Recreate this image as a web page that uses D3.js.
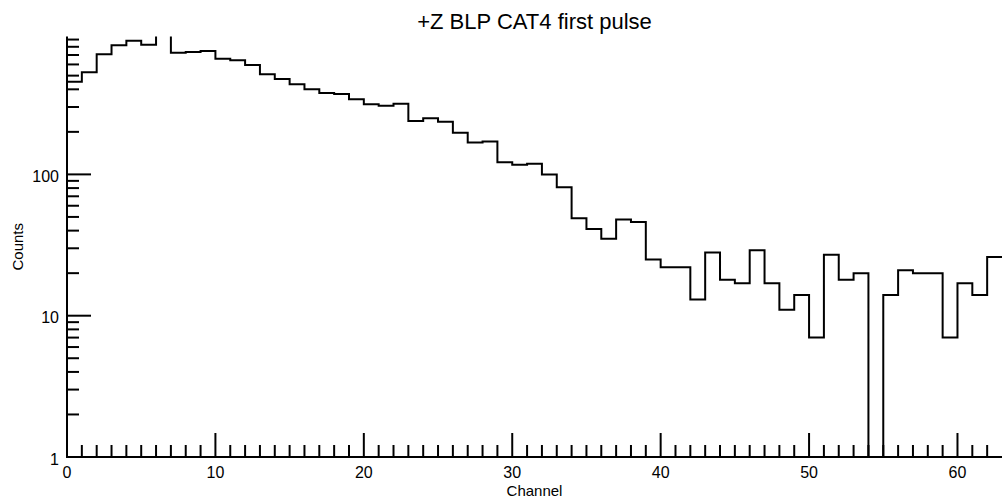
<!DOCTYPE html>
<html>
<head>
<meta charset="utf-8">
<script src="https://cdn.jsdelivr.net/npm/d3@7"></script>
<style>
  html, body { margin: 0; padding: 0; background: #fff; }
  svg { display: block; }
  text { font-family: "Liberation Sans", Arial, Helvetica, sans-serif; fill: #000; }
</style>
</head>
<body>
<svg id="chart" width="1006" height="502"></svg>
<script>
// ---- data ----
const title = "+Z BLP CAT4 first pulse";
const xTitle = "Channel";
const yTitle = "Counts";
// counts per channel (channel index = array index, 0..62)
const counts = [
  453, 528, 708, 820, 884, 828, 1020, 727, 735, 747,
  659, 642, 595, 511, 473, 434, 400, 377, 371, 340,
  313, 306, 316, 239, 250, 236, 197, 168, 171, 122,
  117, 119, 100, 81, 49, 41, 35, 48, 46, 25,
  22, 22, 13, 28, 18, 17, 29, 17, 11, 14,
  7, 27, 18, 20, 0, 14, 21, 20, 20, 7,
  17, 14, 26
];
const xDomain = [0, 63];
const yDomain = [1, 946];
const xMajorTicks = [0, 10, 20, 30, 40, 50, 60];
const yMajorTicks = [1, 10, 100];
const yMinorMultipliers = [2, 3, 4, 5, 6, 7, 8, 9];

(function () {
  // ---- layout ----
  const svg = d3.select("#chart");
  const mLeft = 67, mRight = 1002, mTop = 36.5, mBottom = 457;

  const x = d3.scaleLinear().domain(xDomain).range([mLeft, mRight]);
  const y = d3.scaleLog().domain(yDomain).range([mBottom, mTop]);

  // clip
  svg.append("defs").append("clipPath").attr("id", "plotclip")
    .append("rect").attr("x", mLeft - 2).attr("y", mTop)
    .attr("width", mRight - mLeft + 4).attr("height", mBottom - mTop + 2);

  // histogram
  const pts = counts.map((v, i) => [i, v]);
  pts.push([counts.length, counts[counts.length - 1]]);
  const line = d3.line()
    .x(d => x(d[0]))
    .y(d => y(Math.max(d[1], yDomain[0])))
    .curve(d3.curveStepAfter);

  svg.append("path")
    .attr("d", line(pts))
    .attr("fill", "none")
    .attr("stroke", "#000")
    .attr("stroke-width", 2)
    .attr("clip-path", "url(#plotclip)");

  // x axis
  const xMinor = d3.range(xDomain[0], xDomain[1]).filter(v => xMajorTicks.indexOf(v) < 0);
  const gx = svg.append("g").attr("stroke", "#000").attr("stroke-width", 2);
  gx.append("line").attr("x1", mLeft).attr("x2", mRight).attr("y1", mBottom).attr("y2", mBottom);
  gx.selectAll("line.minor").data(xMinor).join("line").attr("class", "minor")
    .attr("x1", d => x(d)).attr("x2", d => x(d))
    .attr("y1", mBottom).attr("y2", mBottom - 12);
  gx.selectAll("line.major").data(xMajorTicks).join("line").attr("class", "major")
    .attr("x1", d => x(d)).attr("x2", d => x(d))
    .attr("y1", mBottom).attr("y2", mBottom - 24);
  svg.selectAll("text.xlab").data(xMajorTicks).join("text").attr("class", "xlab")
    .attr("x", d => x(d)).attr("y", mBottom + 21)
    .attr("text-anchor", "middle").style("font-size", "16px")
    .text(d => d);

  // y axis
  const yMinor = [];
  yMajorTicks.forEach(m => yMinorMultipliers.forEach(k => {
    const v = m * k;
    if (v <= yDomain[1]) yMinor.push(v);
  }));
  const gy = svg.append("g").attr("stroke", "#000").attr("stroke-width", 2);
  gy.append("line").attr("x1", mLeft).attr("x2", mLeft).attr("y1", mTop).attr("y2", mBottom + 1);
  gy.selectAll("line.minor").data(yMinor).join("line").attr("class", "minor")
    .attr("x1", mLeft).attr("x2", mLeft + 12)
    .attr("y1", d => y(d)).attr("y2", d => y(d));
  gy.selectAll("line.major").data(yMajorTicks).join("line").attr("class", "major")
    .attr("x1", mLeft).attr("x2", mLeft + 24)
    .attr("y1", d => y(d)).attr("y2", d => y(d));
  svg.selectAll("text.ylab").data(yMajorTicks).join("text").attr("class", "ylab")
    .attr("x", mLeft - 8).attr("y", d => y(d) + 7.5)
    .attr("text-anchor", "end").style("font-size", "16px")
    .text(d => d);

  // titles
  svg.append("text").attr("x", (mLeft + mRight) / 2).attr("y", 29)
    .attr("text-anchor", "middle").style("font-size", "22px").text(title);
  svg.append("text").attr("x", (mLeft + mRight) / 2).attr("y", 496)
    .attr("text-anchor", "middle").style("font-size", "15px").text(xTitle);
  svg.append("text").attr("transform", `translate(23,${(mTop + mBottom) / 2}) rotate(-90)`)
    .attr("text-anchor", "middle").style("font-size", "15px").text(yTitle);
})();
</script>
</body>
</html>
